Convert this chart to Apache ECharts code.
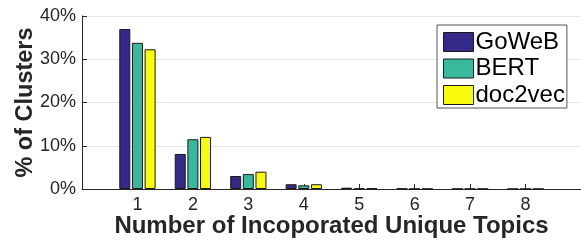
<!DOCTYPE html>
<html>
<head>
<meta charset="utf-8">
<script src="https://cdn.jsdelivr.net/npm/echarts@6/dist/echarts.min.js"></script>
<style>
  html, body { margin: 0; padding: 0; background: #fff; }
  #chart { width: 581px; height: 240px; }
</style>
</head>
<body>
<div id="chart"></div>
<script>
// number of unique topics (0 and 9 are empty padding slots)
var topics = ['0', '1', '2', '3', '4', '5', '6', '7', '8', '9'];
var goweb   = [null, 37.0, 8.1, 3.0, 1.1, 0.3, 0.1, 0.05, 0.02, null];
var bert    = [null, 33.8, 11.5, 3.45, 0.85, 0.1, 0.05, 0.05, 0.02, null];
var doc2vec = [null, 32.3, 12.05, 4.0, 1.1, 0.2, 0.05, 0.05, 0.02, null];
var yTicks = [0, 10, 20, 30, 40];

var font = 'Liberation Sans, Arial, Helvetica, sans-serif';
var myChart = echarts.init(document.getElementById('chart'));

function barSeries(name, data, color) {
  return {
    name: name,
    type: 'bar',
    data: data,
    barWidth: 11,
    barGap: '15%',
    itemStyle: {
      color: color,
      borderColor: '#1a1a1a',
      borderWidth: 1
    }
  };
}

var option = {
  backgroundColor: '#fff',
  animation: false,
  grid: { left: 82, right: 0, top: 16, bottom: 51, outerBoundsMode: 'none', containLabel: false },
  legend: {
    left: 437,
    top: 25,
    orient: 'vertical',
    icon: 'rect',
    itemWidth: 30,
    itemHeight: 19,
    itemGap: 2.5,
    padding: [5, 2, 1, 6],
    borderColor: '#555',
    borderWidth: 1,
    backgroundColor: '#fff',
    itemStyle: { borderColor: '#1a1a1a', borderWidth: 1 },
    textStyle: { fontFamily: font, fontSize: 24, lineHeight: 19, color: '#000', padding: [0, 0, 0, -3] },
    data: ['GoWeB', 'BERT', 'doc2vec']
  },
  xAxis: {
    type: 'category',
    data: topics,
    boundaryGap: false,
    name: 'Number of Incoporated Unique Topics',
    nameLocation: 'middle',
    nameGap: 25,
    nameMoveOverlap: false,
    nameTextStyle: { fontFamily: font, fontSize: 24, fontWeight: 'bold', color: '#262626' },
    axisLine: { lineStyle: { color: '#262626', width: 1 } },
    axisTick: {
      inside: true,
      length: 5,
      interval: function (i) { return i >= 1 && i <= 8; },
      lineStyle: { color: '#262626' }
    },
    axisLabel: {
      interval: 0,
      fontFamily: font,
      fontSize: 18,
      color: '#262626',
      margin: 7,
      formatter: function (v) { return (v === '0' || v === '9') ? '' : v; }
    },
    splitLine: { show: false }
  },
  yAxis: {
    type: 'value',
    min: yTicks[0],
    max: yTicks[yTicks.length - 1],
    interval: 10,
    name: '% of Clusters',
    nameLocation: 'middle',
    nameGap: 44,
    nameMoveOverlap: false,
    nameTextStyle: { fontFamily: font, fontSize: 23.5, fontWeight: 'bold', color: '#262626' },
    axisLine: { show: true, lineStyle: { color: '#262626', width: 1 } },
    axisTick: { show: true, inside: true, length: 5, lineStyle: { color: '#262626' } },
    axisLabel: {
      fontFamily: font,
      fontSize: 18,
      color: '#262626',
      margin: 6,
      formatter: '{value}%'
    },
    splitLine: { show: true, lineStyle: { color: '#e6e6e6', width: 1 } }
  },
  series: [
    barSeries('GoWeB', goweb, '#352a87'),
    barSeries('BERT', bert, '#38b99e'),
    barSeries('doc2vec', doc2vec, '#f9fb0e')
  ]
};
myChart.setOption(option);
</script>
</body>
</html>
